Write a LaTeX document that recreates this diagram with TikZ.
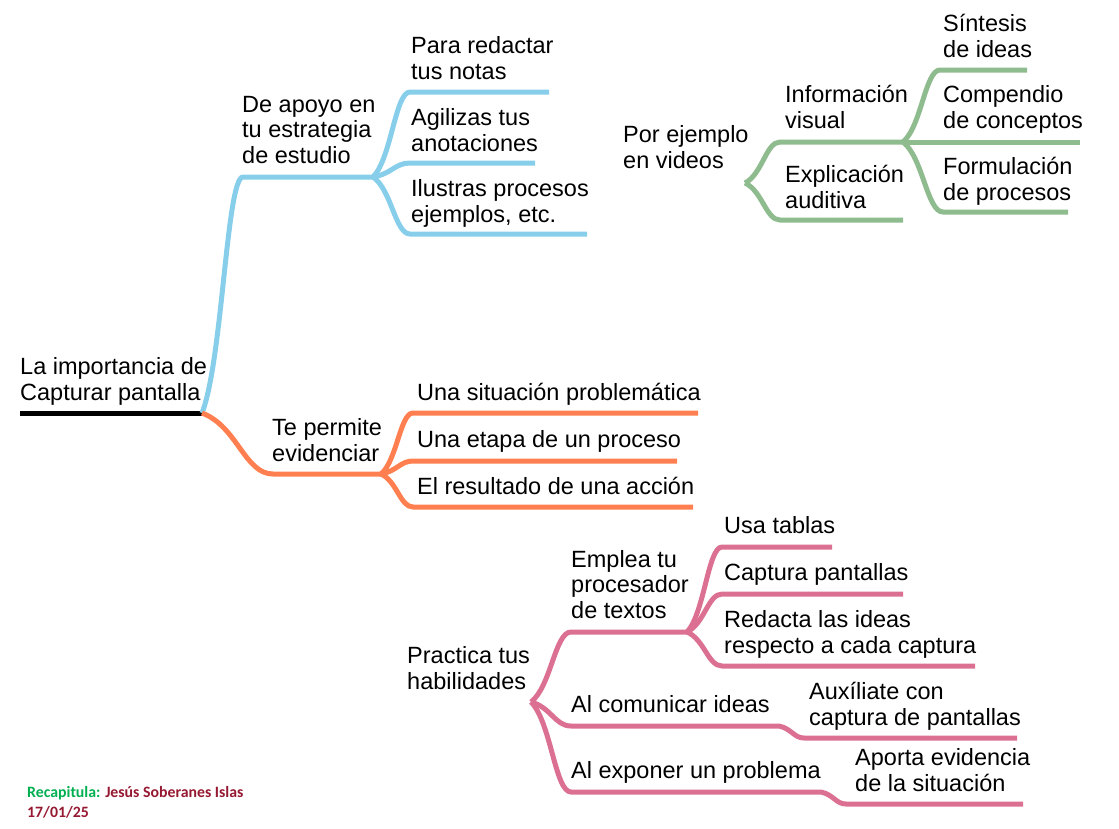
\documentclass[tikz,border=0pt]{standalone}
\usepackage{fontspec}
\setmainfont{Liberation Sans}
\newfontfamily\credfont{Carlito}
\usetikzlibrary{calc}
\definecolor{ramaazul}{RGB}{135,206,235}
\definecolor{ramanaranja}{RGB}{255,127,80}
\definecolor{ramaverde}{RGB}{143,188,143}
\definecolor{ramarosa}{RGB}{219,112,147}
\definecolor{verdecred}{RGB}{0,176,80}
\definecolor{rojocred}{RGB}{150,25,50}

\begin{document}
\begin{tikzpicture}[x=1pt,y=-1pt,
  tema/.style={anchor=base west,inner sep=0pt,align=left,font=\fontsize{23.5}{25.5}\selectfont},
  rama/.style={line width=5pt},
  twig/.style={to path={let \p1=(\tikztostart), \p2=(\tikztotarget) in
    .. controls ({\x1+0.5*(\x2-\x1)},{\y1+0.22*(\y2-\y1)}) and ({\x2-0.4*(\x2-\x1)},\y2) .. (\tikztotarget)}}]
\useasboundingbox (0,0) rectangle (1119,828);

% raiz
\node[tema] (raiz) at (20,400) {La importancia de\\Capturar pantalla};
\coordinate (r0) at (20,413);
\coordinate (r1) at (202,413);
\draw[rama,black] (r0) -- (r1);

% rama azul
\node[tema] (apoyo) at (242,163) {De apoyo en\\tu estrategia\\de estudio};
\node[tema] (redactar) at (411,79) {Para redactar\\tus notas};
\node[tema] (agilizas) at (411,151) {Agilizas tus\\anotaciones};
\node[tema] (ilustras) at (411,222) {Ilustras procesos\\ejemplos, etc.};
\coordinate (ap0) at (243,177); \coordinate (ap1) at (373,177);
\coordinate (re0) at (410,92);  \coordinate (re1) at (549,92);
\coordinate (ag0) at (410,163); \coordinate (ag1) at (535,163);
\coordinate (il0) at (410,234); \coordinate (il1) at (587,234);
\draw[rama,ramaazul] (r1) to[twig] (ap0) -- (ap1);
\draw[rama,ramaazul] (ap1) to[twig] (re0) -- (re1);
\draw[rama,ramaazul] (ap1) to[twig] (ag0) -- (ag1);
\draw[rama,ramaazul] (ap1) to[twig] (il0) -- (il1);

% rama naranja
\node[tema] (permite) at (272,461) {Te permite\\evidenciar};
\node[tema] (situacion) at (417,400) {Una situación problemática};
\node[tema] (etapa) at (417,447) {Una etapa de un proceso};
\node[tema] (resultado) at (417,494) {El resultado de una acción};
\coordinate (pe0) at (273,474); \coordinate (pe1) at (381,474);
\coordinate (si0) at (413,413); \coordinate (si1) at (698,413);
\coordinate (et0) at (413,461); \coordinate (et1) at (677,461);
\coordinate (rs0) at (413,507); \coordinate (rs1) at (693,507);
\draw[rama,ramanaranja] (r1) to[twig] (pe0) -- (pe1);
\draw[rama,ramanaranja] (pe1) to[twig] (si0) -- (si1);
\draw[rama,ramanaranja] (pe1) to[twig] (et0) -- (et1);
\draw[rama,ramanaranja] (pe1) to[twig] (rs0) -- (rs1);

% rama verde
\node[tema] (videos) at (623,168) {Por ejemplo\\en videos};
\node[tema] (visual) at (785,128) {Información\\visual};
\node[tema] (auditiva) at (785,208) {Explicación\\auditiva};
\node[tema] (sintesis) at (943,57) {Síntesis\\de ideas};
\node[tema] (compendio) at (943,128) {Compendio\\de conceptos};
\node[tema] (formulacion) at (943,200) {Formulación\\de procesos};
\coordinate (vi0) at (745,183);
\coordinate (vs0) at (780,142); \coordinate (vs1) at (903,142);
\coordinate (au0) at (780,220); \coordinate (au1) at (903,220);
\coordinate (sn0) at (940,70);  \coordinate (sn1) at (1027,70);
\coordinate (cp0) at (940,142); \coordinate (cp1) at (1080,142);
\coordinate (fo0) at (943,212); \coordinate (fo1) at (1068,212);
\draw[rama,ramaverde] (vi0) to[twig] (vs0) -- (vs1);
\draw[rama,ramaverde] (vi0) to[twig] (au0) -- (au1);
\draw[rama,ramaverde] (vs1) to[twig] (sn0) -- (sn1);
\draw[rama,ramaverde] (vs1) -- (cp0) -- (cp1);
\draw[rama,ramaverde] (vs1) to[twig] (fo0) -- (fo1);

% rama rosa
\node[tema] (practica) at (407,689) {Practica tus\\habilidades};
\node[tema] (emplea) at (571,618) {Emplea tu\\procesador\\de textos};
\node[tema] (tablas) at (724,533) {Usa tablas};
\node[tema] (capturas) at (724,580) {Captura pantallas};
\node[tema] (redacta) at (724,653) {Redacta las ideas\\respecto a cada captura};
\node[tema] (comunicar) at (571,712) {Al comunicar ideas};
\node[tema] (auxiliate) at (809,725) {Auxíliate con\\captura de pantallas};
\node[tema] (exponer) at (571,778) {Al exponer un problema};
\node[tema] (aporta) at (855,791) {Aporta evidencia\\de la situación};
\coordinate (pr0) at (531,702);
\coordinate (em0) at (571,632); \coordinate (em1) at (687,632);
\coordinate (ta0) at (722,547); \coordinate (ta1) at (832,547);
\coordinate (ca0) at (722,594); \coordinate (ca1) at (903,594);
\coordinate (rd0) at (722,666); \coordinate (rd1) at (975,666);
\coordinate (co0) at (571,726); \coordinate (co1) at (779,726);
\coordinate (ax0) at (804,738); \coordinate (ax1) at (1017,738);
\coordinate (ex0) at (571,792); \coordinate (ex1) at (821,792);
\coordinate (ab0) at (846,804); \coordinate (ab1) at (1023,804);
\draw[rama,ramarosa] (pr0) to[twig] (em0) -- (em1);
\draw[rama,ramarosa] (em1) to[twig] (ta0) -- (ta1);
\draw[rama,ramarosa] (em1) to[twig] (ca0) -- (ca1);
\draw[rama,ramarosa] (em1) to[twig] (rd0) -- (rd1);
\draw[rama,ramarosa] (pr0) to[twig] (co0) -- (co1) to[twig] (ax0) -- (ax1);
\draw[rama,ramarosa] (pr0) to[twig] (ex0) -- (ex1) to[twig] (ab0) -- (ab1);

% credito
\node[anchor=base west,inner sep=0pt,align=left,font=\credfont\bfseries\fontsize{15.8}{19.5}\selectfont] (credito) at (27,817)
  {\textcolor{verdecred}{Recapitula:} \textcolor{rojocred}{Jesús Soberanes Islas}\\\textcolor{rojocred}{17/01/25}};
\end{tikzpicture}
\end{document}
